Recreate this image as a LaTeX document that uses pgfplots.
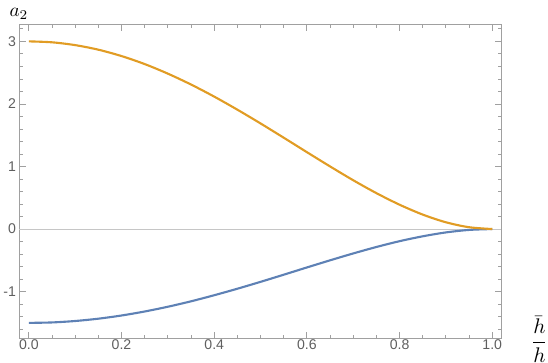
\RequirePackage{fix-cm}
\documentclass[border=0pt]{standalone}
\usepackage{amsmath}
\usepackage{fontspec}
\setmainfont{Liberation Sans}
\usepackage{pgfplots}
\pgfplotsset{compat=1.18}

\definecolor{mmablue}{rgb}{0.368417,0.506779,0.709798}
\definecolor{mmaorange}{rgb}{0.880722,0.611041,0.142051}
\definecolor{framegray}{RGB}{160,160,160}
\definecolor{labelgray}{RGB}{95,95,95}

\begin{document}
\begin{tikzpicture}
\begin{axis}[
  scale only axis,
  width=478.3pt, height=311.4pt,
  xmin=-0.0203, xmax=1.0196,
  ymin=-1.745, ymax=3.27,
  axis line style={framegray, line width=0.8pt},
  tick style={framegray, line width=0.8pt},
  tick align=inside,
  major tick length=6pt,
  minor tick length=3.5pt,
  xtick={0,0.2,0.4,0.6,0.8,1},
  minor xtick={0.05,0.1,0.15,0.25,0.3,0.35,0.45,0.5,0.55,0.65,0.7,0.75,0.85,0.9,0.95},
  ytick={-1,0,1,2,3},
  minor ytick={-1.6,-1.4,-1.2,-0.8,-0.6,-0.4,-0.2,0.2,0.4,0.6,0.8,1.2,1.4,1.6,1.8,2.2,2.4,2.6,2.8,3.2},
  xticklabel style={/pgf/number format/fixed, /pgf/number format/fixed zerofill, /pgf/number format/precision=1, yshift=2pt},
  /pgf/number format/assume math mode=true,
  ticklabel style={font=\fontsize{14}{16}\selectfont, text=labelgray},
  xlabel={\scalebox{2.1}{$\dfrac{\bar{h}}{h}$}},
  ylabel={\rule{0pt}{16.6pt}\scalebox{1.9}{$a_2$}},
  every axis x label/.style={at={(rel axis cs:1,0)}, anchor=west, xshift=29pt, yshift=-1pt, inner sep=0pt},
  every axis y label/.style={at={(rel axis cs:0,1)}, anchor=base west, xshift=-10pt, yshift=7.7pt, inner sep=0pt},
  clip=false,
]
\addplot[framegray!60, line width=0.6pt] coordinates {(-0.0203,0) (1.0196,0)};

% blue series
\addplot[mmablue, line width=2.1pt, smooth] coordinates {
(0,-1.5) (0.05,-1.493) (0.1,-1.470) (0.15,-1.433) (0.2,-1.382) (0.25,-1.318)
(0.3,-1.242) (0.35,-1.155) (0.4,-1.058) (0.45,-0.954) (0.5,-0.844) (0.55,-0.730)
(0.6,-0.614) (0.65,-0.500) (0.7,-0.390) (0.75,-0.287) (0.8,-0.194) (0.85,-0.116)
(0.9,-0.054) (0.95,-0.014) (1,0)};

% orange series
\addplot[mmaorange, line width=2.1pt, smooth] coordinates {
(0,3) (0.05,2.985) (0.1,2.940) (0.15,2.867) (0.2,2.765) (0.25,2.637)
(0.3,2.484) (0.35,2.310) (0.4,2.117) (0.45,1.908) (0.5,1.688) (0.55,1.460)
(0.6,1.229) (0.65,1.001) (0.7,0.780) (0.75,0.574) (0.8,0.389) (0.85,0.231)
(0.9,0.108) (0.95,0.029) (1,0)};
\end{axis}
\end{tikzpicture}
\end{document}
